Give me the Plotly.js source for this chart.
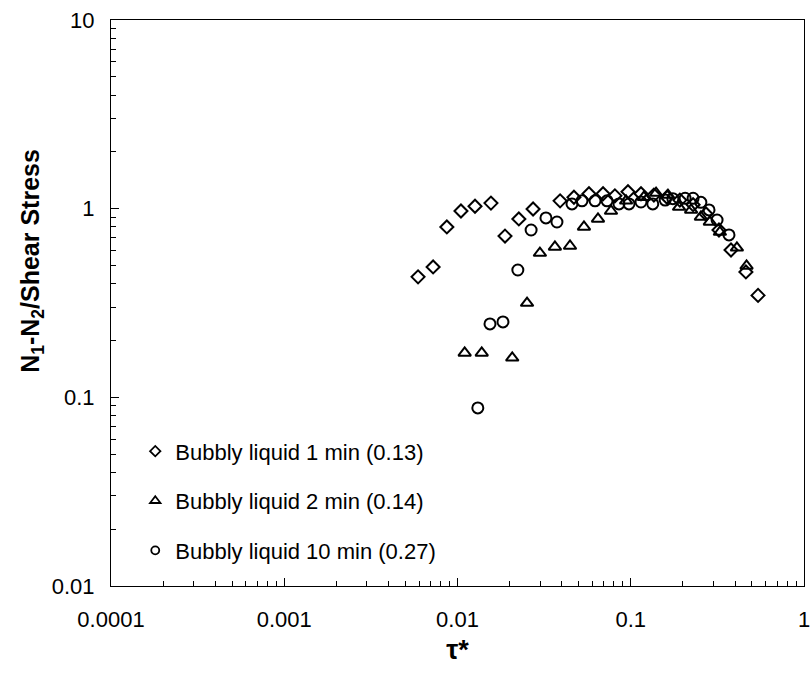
<!DOCTYPE html>
<html>
<head>
<meta charset="utf-8">
<script src="https://cdn.plot.ly/plotly-3.0.1.min.js"></script>
<style>html,body{margin:0;padding:0;background:#fff;}#chart{width:812px;height:678px;}</style>
</head>
<body>
<div id="chart"></div>
<script>
// Bubbly liquid 1 min (0.13) - diamonds
const tau1 = [0.00592, 0.00723, 0.00868, 0.01047, 0.01262, 0.0156, 0.0188, 0.0226, 0.0273, 0.0391, 0.047, 0.0574, 0.0692, 0.081, 0.0964, 0.1146, 0.136, 0.162, 0.192, 0.229, 0.272, 0.323, 0.379, 0.462, 0.543];
const ratio1 = [0.435, 0.491, 0.80, 0.972, 1.03, 1.07, 0.716, 0.882, 0.996, 1.10, 1.15, 1.20, 1.20, 1.17, 1.23, 1.20, 1.18, 1.15, 1.11, 1.05, 0.937, 0.771, 0.604, 0.462, 0.347];
// Bubbly liquid 2 min (0.14) - triangles
const tau2 = [0.0110, 0.0138, 0.0207, 0.0252, 0.0299, 0.0365, 0.0446, 0.0537, 0.0647, 0.0769, 0.094, 0.119, 0.140, 0.164, 0.190, 0.223, 0.254, 0.286, 0.327, 0.410, 0.466];
const ratio2 = [0.172, 0.172, 0.162, 0.316, 0.582, 0.627, 0.634, 0.80, 0.882, 0.972, 1.10, 1.15, 1.21, 1.18, 1.02, 0.985, 0.904, 0.85, 0.752, 0.62, 0.497];
// Bubbly liquid 10 min (0.27) - circles
const tau3 = [0.0131, 0.0154, 0.0183, 0.0223, 0.0266, 0.0324, 0.0375, 0.0458, 0.0523, 0.0622, 0.073, 0.0855, 0.0977, 0.1146, 0.134, 0.158, 0.175, 0.206, 0.229, 0.254, 0.283, 0.315, 0.369];
const ratio3 = [0.0879, 0.245, 0.251, 0.473, 0.771, 0.893, 0.85, 1.06, 1.10, 1.10, 1.10, 1.06, 1.06, 1.085, 1.06, 1.11, 1.13, 1.135, 1.135, 1.08, 0.985, 0.871, 0.726];

const seriesNames = ["Bubbly liquid 1 min (0.13)", "Bubbly liquid 2 min (0.14)", "Bubbly liquid 10 min (0.27)"];
const xTickVals = [0.0001, 0.001, 0.01, 0.1, 1];
const xTickText = ["0.0001", "0.001", "0.01", "0.1", "1"];
const yTickVals = [0.01, 0.1, 1, 10];
const yTickText = ["0.01", "0.1", "1", "10"];
const xTitle = "<b>τ*</b>";
const yTitle = "<b>N<sub>1</sub>-N<sub>2</sub>/Shear Stress</b>";

const FONT = "Liberation Sans, Arial, sans-serif";
const symbols = ["diamond-open", "triangle-up-open", "circle-open"];
const sizes = [10, 11, 11];
const legSizes = [8, 9, 8];
const xs = [tau1, tau2, tau3];
const ys = [ratio1, ratio2, ratio3];

const traces = [];
for (let i = 0; i < 3; i++) {
  traces.push({
    x: xs[i], y: ys[i], type: "scatter", mode: "markers",
    name: seriesNames[i], showlegend: false,
    marker: {symbol: symbols[i], size: sizes[i], color: "black", line: {width: 2, color: "black"}},
    cliponaxis: false
  });
}
for (let i = 0; i < 3; i++) {
  traces.push({
    x: [null], y: [null], type: "scatter", mode: "markers",
    name: seriesNames[i], legendgroup: "g" + i, showlegend: true,
    marker: {symbol: symbols[i], size: legSizes[i], color: "black", line: {width: 1.8, color: "black"}}
  });
}

const axisCommon = {
  type: "log", showgrid: false, zeroline: false, showline: true,
  linecolor: "black", linewidth: 1, mirror: true,
  ticks: "inside", ticklen: 8, tickwidth: 1, tickcolor: "black",
  tickfont: {family: FONT, size: 22, color: "black"},
  minor: {ticks: "inside", ticklen: 5, tickwidth: 1, tickcolor: "black", dtick: "D1", showgrid: false}
};

const layout = {
  width: 812, height: 678,
  paper_bgcolor: "white", plot_bgcolor: "white",
  margin: {l: 111, r: 8, t: 20, b: 92},
  showlegend: true,
  legend: {
    x: 0.035, y: 0.275, xanchor: "left", yanchor: "top",
    bgcolor: "rgba(0,0,0,0)", borderwidth: 0,
    font: {family: FONT, size: 22, color: "black"},
    tracegroupgap: 18, itemwidth: 30
  },
  xaxis: Object.assign({}, axisCommon, {
    range: [-4, 0], tickvals: xTickVals, ticktext: xTickText,
    ticklabelstandoff: 14,
    title: {text: xTitle, font: {family: FONT, size: 27, color: "black"}, standoff: 8}
  }),
  yaxis: Object.assign({}, axisCommon, {
    range: [-2, 1], tickvals: yTickVals, ticktext: yTickText,
    ticklabelstandoff: 11
  }),
  annotations: [{
    text: yTitle, textangle: -90, showarrow: false,
    xref: "paper", yref: "paper", x: -0.115, y: 0.575,
    xanchor: "center", yanchor: "middle",
    font: {family: FONT, size: 25, color: "black"}
  }]
};

Plotly.newPlot("chart", traces, layout, {displayModeBar: false, staticPlot: true});
</script>
</body>
</html>
